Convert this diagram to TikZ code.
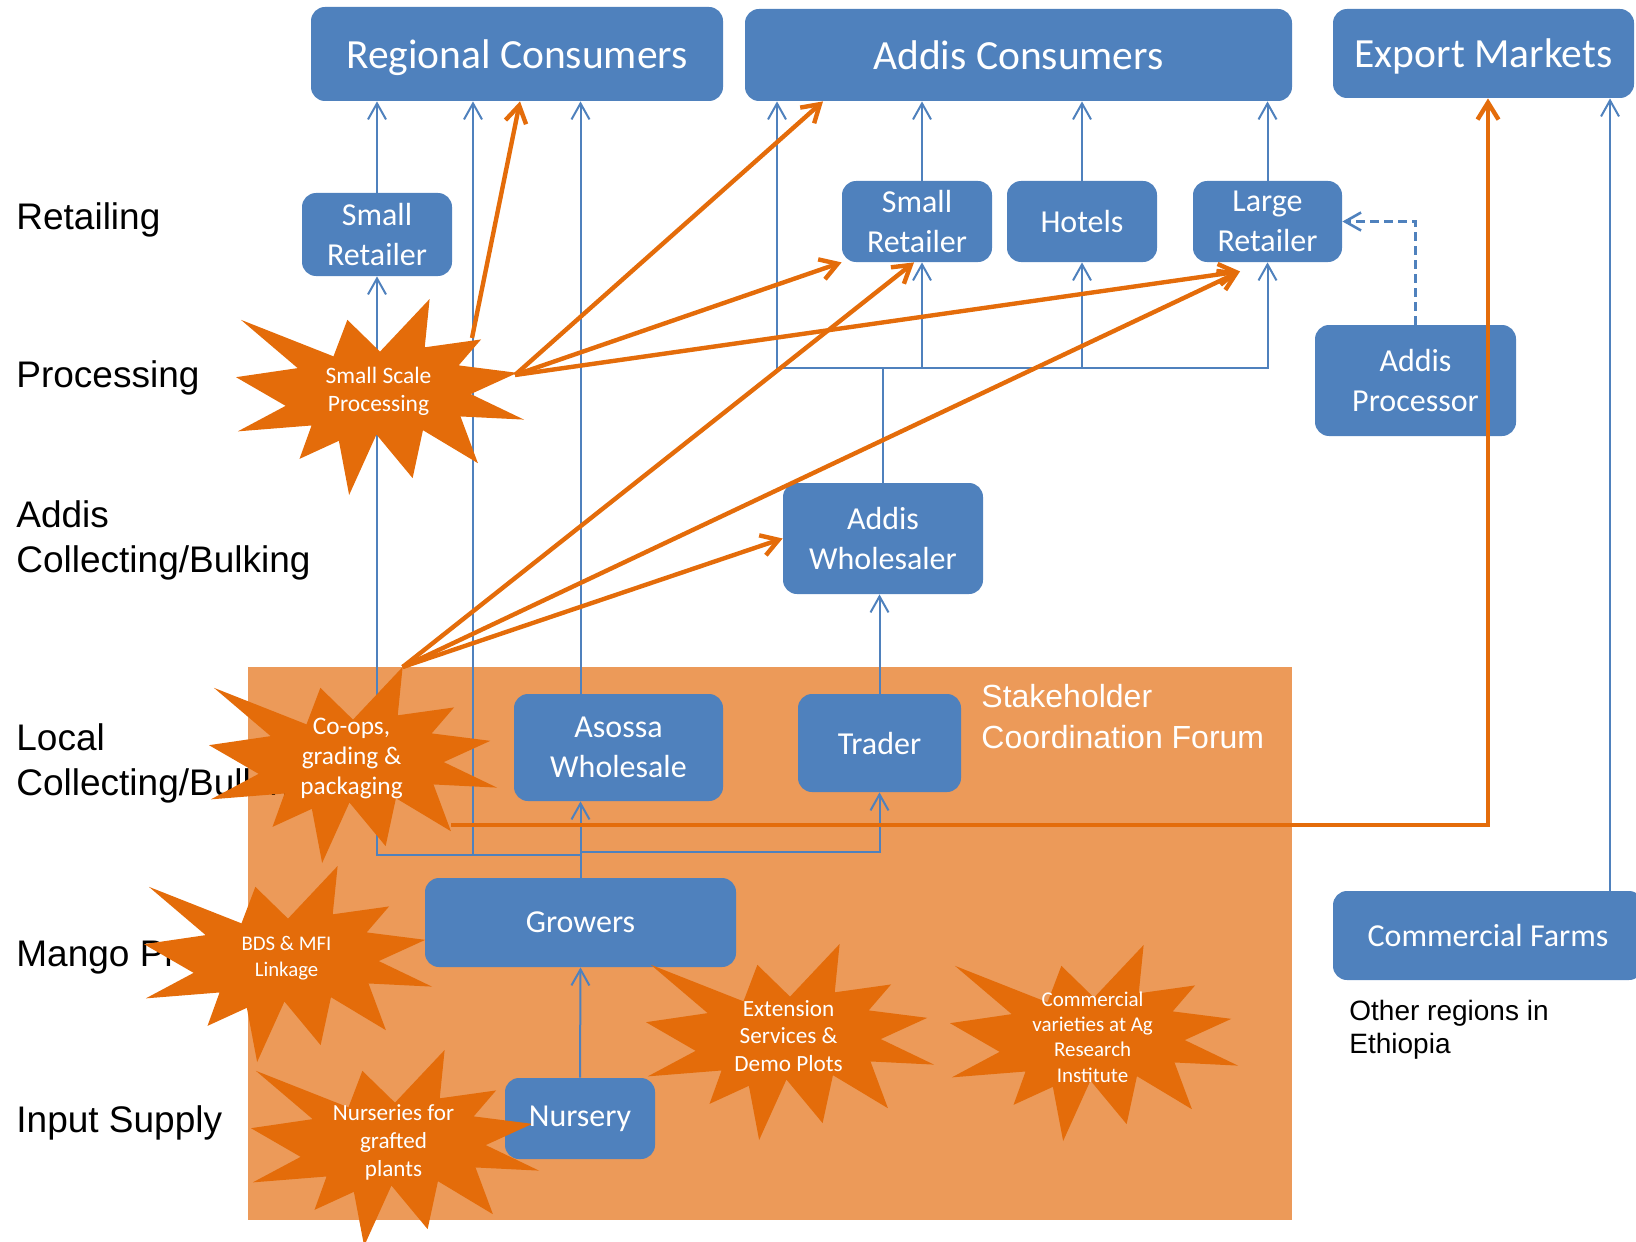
\documentclass[tikz,border=0pt]{standalone}
\usepackage{fontspec}
\setmainfont{Carlito}
\newfontfamily\arialf{Liberation Sans}
\usetikzlibrary{arrows.meta,calc}
\definecolor{bluec}{HTML}{4F81BD}
\definecolor{orc}{HTML}{E46C0A}
\definecolor{bgc}{HTML}{EC9A59}

% PowerPoint "explosion" star: #1 name, (#2,#3) top-left corner of its 288x196 box
\newcommand\boomstar[3]{%
\begin{scope}[shift={(#2,#3)},x=0.144pt,y=-0.098pt]
\fill[orc] (500,268.5) -- (672.3,0) -- (655.3,246.5) -- (850.9,206.3) -- (773.2,338.7)
 -- (976.7,376.7) -- (815.1,485.0) -- (1000,615.3) -- (779.5,599.2) -- (840.0,837.7)
 -- (649.1,669.3) -- (613.3,913.8) -- (487.6,691.4) -- (392.8,1000) -- (357.2,723.5)
 -- (220.5,815.6) -- (262.4,645.2) -- (6.25,675.3) -- (172.3,545.1) -- (0,398.8)
 -- (214.2,352.6) -- (17.1,106.3) -- (338.5,292.6) -- (386.7,106.3) -- cycle;
\coordinate (#1-n) at (672.3,0);
\coordinate (#1-c) at (495,469);
\end{scope}}

\begin{document}
\begin{tikzpicture}[x=0.5pt,y=-0.5pt,
  every node/.style={inner sep=0pt},
  box/.style={fill=bluec, rounded corners=7pt, text=white, align=center,
    font=\fontsize{16}{20}\selectfont},
  topbox/.style={box, font=\fontsize{20.75}{25}\selectfont, text depth=0pt},
  boxtext/.style={text=white, align=center, font=\fontsize{16}{20}\selectfont},
  lbl/.style={font=\arialf\fontsize{18.5}{22.3}\selectfont, align=left, text=black},
  startxt/.style={text=white, align=center},
  bla/.style={draw=bluec, line width=1pt, -{Straight Barb[length=8pt,width=9pt]}},
  ora/.style={draw=orc, line width=2.2pt, -{Straight Barb[length=8.5pt,width=10.5pt]}}]

\useasboundingbox (0,0) rectangle (1636,1241);
\clip (0,0) rectangle (1636,1241);

% stakeholder forum background
\fill[bgc] (248,667) rectangle (1292,1220);

% level labels (multi-line nodes anchored at their last baseline)
\node[lbl, anchor=base west] (lret) at (16,229) {Retailing};
\node[lbl, anchor=base west] (lproc) at (16,387) {Processing};
\node[lbl, anchor=base west] (laddis) at (16,572) {Addis\\Collecting/Bulking};
\node[lbl, anchor=base west] (llocal) at (16,795) {Local\\Collecting/Bulking};
\node[lbl, anchor=base west] (lmango) at (16,966) {Mango Production};
\node[lbl, anchor=base west] (linput) at (16,1132) {Input Supply};

\node[anchor=base west, align=left, text=white, font=\arialf\fontsize{16}{20.5}\selectfont]
  (scf) at (981,748) {Stakeholder\\Coordination Forum};
\node[anchor=base west, align=left, font=\arialf\fontsize{14}{16.5}\selectfont]
  (oth) at (1349,1053) {Other regions in\\Ethiopia};

% boxes
\node[topbox, minimum width=206pt, minimum height=47pt] (rc) at (517,54) {Regional Consumers};
\node[topbox, minimum width=273.5pt, minimum height=46pt] (ac) at (1018.5,55) {Addis Consumers};
\node[topbox, minimum width=150.5pt, minimum height=44.5pt] (em) at (1483.5,53.5) {Export Markets};
\node[box, minimum width=75pt, minimum height=41.5pt] (srl) at (377,234.5) {Small\\Retailer};
\node[box, minimum width=75pt, minimum height=40.5pt] (srm) at (917,221.5) {Small\\Retailer};
\node[box, minimum width=75pt, minimum height=40.5pt] (ho) at (1082,221.5) {Hotels};
\node[box, minimum width=74.5pt, minimum height=40.5pt] (lr) at (1267.5,221.5) {Large\\Retailer};
\node[box, minimum width=100.5pt, minimum height=55.5pt] (ap) at (1415.5,380.5) {Addis\\Processor};
\node[box, minimum width=100pt, minimum height=55.5pt] (aw) at (883,538.5) {Addis\\Wholesaler};
\node[box, minimum width=104.5pt, minimum height=53.5pt] (aso) at (618.5,747.5) {Asossa\\Wholesale};
\node[box, minimum width=81.5pt, minimum height=49pt] (tr) at (879.5,743) {Trader};
\node[box, minimum width=155.5pt, minimum height=44.5pt] (gr) at (580.5,922.5) {Growers};
\node[box, minimum width=75pt, minimum height=40.5pt] (nubox) at (580,1118.5) {};
\node[box, minimum width=155pt, minimum height=44.5pt] (cf) at (1488,935.5) {Commercial Farms};

% blue flows
\draw[bla] (srl.north) -- (srl.north |- rc.south);
\draw[bla] (gr.north) -- ++(0,-23) -| (srl.south);
\draw[bla] (gr.north) -- ++(0,-23) -| ($(rc.south)+(-44,0)$);
\draw[bla] (gr.north) -- (gr.north |- aso.south);
\draw[bla] (gr.north) -- ++(0,-26) -| (tr.south);
\draw[bla] (gr.north |- aso.north) -- (gr.north |- rc.south);
\draw[bla] (tr.north) -- (tr.north |- aw.south);
\draw[bla] (aw.north) -- ++(0,-115) -| ($(ac.south)+(-241.5,0)$);
\draw[bla] (aw.north) -- ++(0,-115) -| ($(srm.south)+(5,0)$);
\draw[bla] (aw.north) -- ++(0,-115) -| (ho.south);
\draw[bla] (aw.north) -- ++(0,-115) -| (lr.south);
\coordinate (srmup) at ($(srm.north)+(5,0)$);
\draw[bla] (srmup) -- (srmup |- ac.south);
\draw[bla] (ho.north) -- (ho.north |- ac.south);
\draw[bla] (lr.north) -- (lr.north |- ac.south);
\draw[bla, line width=1.3pt, dash pattern=on 4.5pt off 2.5pt] (ap.north) |- (lr.east);
\coordinate (cfup) at ($(cf.north)+(122,0)$);
\draw[bla] (cfup) -- (cfup |- em.south);
\draw[bla] (nubox.north) -- (gr.south);

% stars
\boomstar{ssp}{236}{299}
\boomstar{coops}{209}{667}
\boomstar{bds}{144}{866}
\boomstar{nurs}{251}{1050}
\boomstar{ext}{646}{944}
\boomstar{comm}{950}{945}

\node[startxt, font=\fontsize{11.75}{14}\selectfont] (sspt) at (ssp-c) {Small Scale\\Processing};
\node[startxt, font=\fontsize{12.65}{15}\selectfont] (coopst) at (coops-c) {Co-ops,\\grading \&\\packaging};
\node[startxt, font=\fontsize{10.4}{13}\selectfont] (bdst) at (bds-c) {BDS \& MFI\\Linkage};
\node[startxt, font=\fontsize{11.55}{14}\selectfont] (nurst) at (nurs-c) {Nurseries for\\grafted\\plants};
\node[startxt, font=\fontsize{11.6}{13.85}\selectfont] (extt) at (ext-c) {Extension\\Services \&\\Demo Plots};
\node[startxt, font=\fontsize{10.5}{12.7}\selectfont] (commt) at (comm-c) {Commercial\\varieties at Ag\\Research\\Institute};

\node[boxtext] (nu) at (nubox) {Nursery};

% orange flows
\coordinate (sspA) at (472,338);
\coordinate (sspB) at (515,375);
\coordinate (coopsR) at (451,825);
\coordinate (lrin) at ($(lr.south)+(-27.5,9)$);
\draw[ora] (sspA) -- ($(rc.south)+(3,0)$);
\draw[ora] (sspB) -- ($(ac.south)+(-195.5,0)$);
\draw[ora] (sspB) -- (srm.south west);
\draw[ora] (sspB) -- (lrin);
\draw[ora] (coops-n) -- ($(srm.south)+(-3,0)$);
\draw[ora] (coops-n) -- (lrin);
\draw[ora] (coops-n) -- (aw.west);
\draw[ora] (coopsR) -| ($(em.south)+(4.5,0)$);
\end{tikzpicture}
\end{document}
